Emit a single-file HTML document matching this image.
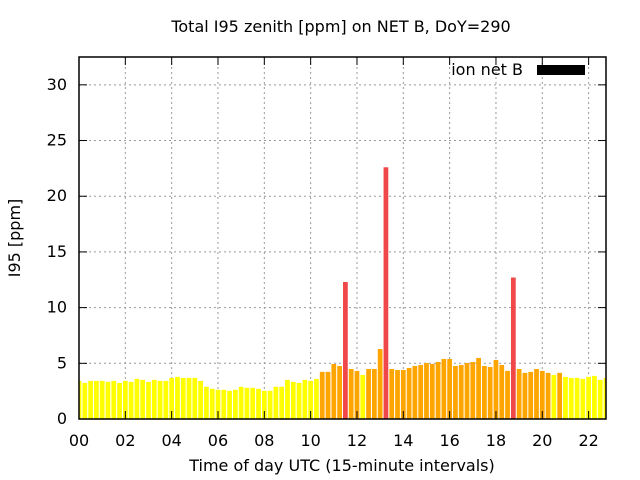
<!DOCTYPE html>
<html><head><meta charset="utf-8"><style>
body{margin:0;background:#fff}
svg{display:block;font-family:"DejaVu Sans","Liberation Sans",sans-serif}
</style></head><body>
<svg id="chart" width="640" height="480">
<text x="341" y="32" font-size="16" text-anchor="middle">Total I95 zenith [ppm] on NET B, DoY=290</text>
<text x="342" y="471" font-size="16" text-anchor="middle">Time of day UTC (15-minute intervals)</text>
<text transform="translate(20,238) rotate(-90)" font-size="16" text-anchor="middle">I95 [ppm]</text>
<g id="grid"></g><g id="bars"></g><g id="axes"></g>
<g>
<text x="523" y="75" font-size="16" text-anchor="end">ion net B</text>
<rect x="537" y="65" width="48" height="10" fill="#000"/>
</g>
</svg>
<script>
const yTicks=[0,5,10,15,20,25,30];
const xTicks=[0,2,4,6,8,10,12,14,16,18,20,22];
const xTickLabels=["00","02","04","06","08","10","12","14","16","18","20","22"];
const values=[3.42,3.24,3.42,3.42,3.42,3.33,3.42,3.24,3.42,3.33,3.6,3.51,3.33,3.51,3.42,3.42,3.69,3.78,3.69,3.69,3.69,3.42,2.89,2.71,2.62,2.62,2.53,2.62,2.89,2.8,2.8,
2.71,2.53,2.53,2.89,2.89,3.51,3.33,3.24,3.51,3.42,3.6,4.23,4.23,4.94,4.76,12.3,4.49,4.32,3.96,4.49,4.49,6.28,22.6,4.49,4.4,4.4,4.58,4.76,4.85,5.03,
4.94,5.12,5.39,5.39,4.76,4.85,5.03,5.12,5.48,4.76,4.67,5.3,4.85,4.32,12.7,4.49,4.14,4.23,4.49,4.32,4.14,3.96,4.14,3.78,3.69,3.69,3.6,3.78,3.87,3.51,3.69];
const L=79,R=606,T=57,B=419,XMAX=22.75,YMAX=32.5;
const sx=v=>L+v/XMAX*(R-L), sy=v=>B-v/YMAX*(B-T);
const NS="http://www.w3.org/2000/svg";
function mk(tag,attrs,parent){const e=document.createElementNS(NS,tag);for(const k in attrs)e.setAttribute(k,attrs[k]);parent.appendChild(e);return e;}
const grid=document.getElementById('grid'),bars=document.getElementById('bars'),axes=document.getElementById('axes');
yTicks.forEach(t=>{
  if(t>0){const g=mk('line',{x1:L,x2:R,y1:sy(t),y2:sy(t),stroke:'#999','stroke-dasharray':'2,3'},grid);
  
  }
  mk('line',{x1:L,x2:L+8,y1:sy(t),y2:sy(t),stroke:'#000'},axes);
  mk('line',{x1:R,x2:R-8,y1:sy(t),y2:sy(t),stroke:'#000'},axes);
  const tx=mk('text',{x:L-12,y:sy(t)+5,'font-size':16,'text-anchor':'end'},axes);tx.textContent=t;
  
  
});
xTicks.forEach((t,i)=>{
  if(t>0){const g=mk('line',{x1:sx(t),x2:sx(t),y1:T,y2:B,stroke:'#999','stroke-dasharray':'2,3'},grid);
  
  }
  mk('line',{x1:sx(t),x2:sx(t),y1:B,y2:B-8,stroke:'#000'},axes);
  mk('line',{x1:sx(t),x2:sx(t),y1:T,y2:T+8,stroke:'#000'},axes);
  const tx=mk('text',{x:sx(t),y:B+27,'font-size':16,'text-anchor':'middle'},axes);tx.textContent=xTickLabels[i];
  
  
});
const bw=(R-L)/XMAX*0.25*0.82;
values.forEach((v,i)=>{
  const cx=sx(i*0.25);let x0=Math.max(L,cx-bw/2),x1=Math.min(R,cx+bw/2);
  const col=v>10?'#f04848':(v>=4?'#ffa500':'#ffff00');
  const r=mk('rect',{x:x0,y:sy(v),width:x1-x0,height:B-sy(v),fill:col},bars);
  
  
});
const fr=mk('rect',{x:L,y:T,width:R-L,height:B-T,fill:'none',stroke:'#000','stroke-width':1.5},axes);


</script>
</body></html>
